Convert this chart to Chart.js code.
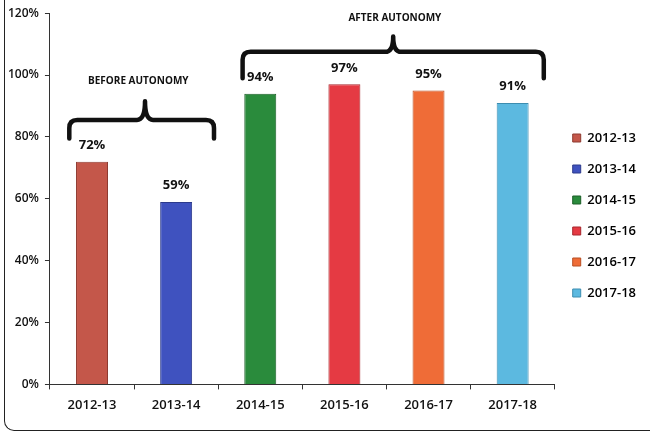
<!DOCTYPE html>
<html>
<head>
<meta charset="utf-8">
<script src="https://cdn.jsdelivr.net/npm/chart.js@4.4.1/dist/chart.umd.min.js"></script>
<style>
  html, body { margin: 0; padding: 0; background: #ffffff; }
  #wrap { position: relative; width: 650px; height: 441px; }
  #frame { position: absolute; left: 4px; top: -20px; width: 700px; height: 450px;
           border-left: 1.5px solid #222; border-bottom: 1.5px solid #222; border-bottom-left-radius: 10px; }
</style>
</head>
<body>
<div id="wrap">
  <div id="frame"></div>
  <canvas id="c" width="650" height="441"></canvas>
</div>
<script>
const categories = ["2012-13", "2013-14", "2014-15", "2015-16", "2016-17", "2017-18"];
const values = [72, 59, 94, 97, 95, 91];
const barColors = ["#c4574a", "#3f52bf", "#2a8b3c", "#e53a43", "#ef6c37", "#5cb9e0"];
const borderColors = ["#8e3a30", "#2c3a8c", "#1c5f28", "#a8262d", "#b84e22", "#3d8db0"];
const yTicks = [0, 20, 40, 60, 80, 100, 120];
const groupLabels = ["BEFORE AUTONOMY", "AFTER AUTONOMY"];

const FONT = "'Open Sans', 'DejaVu Sans', sans-serif";

const valueLabels = {
  id: 'valueLabels',
  afterDatasetsDraw(chart) {
    const ctx = chart.ctx;
    const meta = chart.getDatasetMeta(0);
    ctx.save();
    ctx.font = "bold 13px " + FONT;
    ctx.fillStyle = "#111";
    ctx.textAlign = "center";
    ctx.textBaseline = "bottom";
    meta.data.forEach((bar, i) => {
      ctx.fillText(values[i] + "%", bar.x, bar.y - 10);
    });
    ctx.restore();
  }
};

const braces = [
  { from: -0.27, to: 1.45, nub: 0.63, top: 85.5, ends: 79.5, tip: 91.5, textX: 0.55, textY: 98, label: groupLabels[0] },
  { from: 1.79, to: 5.37, nub: 3.58, top: 107.5, ends: 99, tip: 112.5, textX: 3.6, textY: 118.3, label: groupLabels[1] }
];

const bracePlugin = {
  id: 'braces',
  afterDatasetsDraw(chart) {
    const ctx = chart.ctx;
    const xs = chart.scales.x, ys = chart.scales.y;
    const px = v => xs.getPixelForValue(v);
    const py = v => ys.getPixelForValue(v);
    ctx.save();
    braces.forEach(b => {
      const x1 = px(b.from), x2 = px(b.to), xn = px(b.nub);
      const yt = py(b.top), ye = py(b.ends), yn = py(b.tip);
      const r = 8;
      ctx.strokeStyle = "#111";
      ctx.lineWidth = 4.5;
      ctx.lineCap = "round";
      ctx.lineJoin = "round";
      ctx.beginPath();
      ctx.moveTo(x1, ye);
      ctx.lineTo(x1, yt + r);
      ctx.quadraticCurveTo(x1, yt, x1 + r, yt);
      ctx.lineTo(xn - r, yt);
      ctx.quadraticCurveTo(xn, yt, xn, yn);
      ctx.quadraticCurveTo(xn, yt, xn + r, yt);
      ctx.lineTo(x2 - r, yt);
      ctx.quadraticCurveTo(x2, yt, x2, yt + r);
      ctx.lineTo(x2, ye);
      ctx.stroke();
      ctx.font = "bold 10px " + FONT;
      ctx.fillStyle = "#111";
      ctx.textAlign = "center";
      ctx.textBaseline = "middle";
      ctx.fillText(b.label, px(b.textX), py(b.textY));
    });
    ctx.restore();
  }
};

new Chart(document.getElementById('c'), {
  type: 'bar',
  data: {
    labels: categories,
    datasets: [{
      data: values,
      backgroundColor: barColors,
      borderColor: borderColors,
      borderWidth: 1,
      barPercentage: 0.38,
      categoryPercentage: 1.0
    }]
  },
  options: {
    responsive: false,
    animation: false,
    layout: { padding: { top: 10, left: 2, right: 4, bottom: 20 } },
    scales: {
      x: {
        grid: { drawOnChartArea: false, drawTicks: true, tickLength: 5, color: "#333", offset: true },
        border: { color: "#333", width: 1 },
        ticks: { color: "#111", font: { family: FONT, size: 13, weight: "600" }, padding: 8, maxRotation: 0 }
      },
      y: {
        min: 0, max: 120,
        afterBuildTicks(axis) { axis.ticks = yTicks.map(v => ({ value: v })); },
        grid: { drawOnChartArea: false, drawTicks: true, tickLength: 5, color: "#333" },
        border: { color: "#333", width: 1 },
        ticks: { color: "#111", font: { family: FONT, size: 12, weight: "600" }, padding: 6,
                 callback: v => v + "%" }
      }
    },
    plugins: {
      legend: {
        position: 'right',
        labels: {
          boxWidth: 8, boxHeight: 8, padding: 18,
          color: "#111",
          font: { family: FONT, size: 13, weight: "600" },
          generateLabels() {
            return categories.map((c, i) => ({
              text: c, fillStyle: barColors[i], strokeStyle: borderColors[i], lineWidth: 1, index: i
            }));
          }
        }
      },
      tooltip: { enabled: false }
    }
  },
  plugins: [valueLabels, bracePlugin]
});
</script>
</body>
</html>
